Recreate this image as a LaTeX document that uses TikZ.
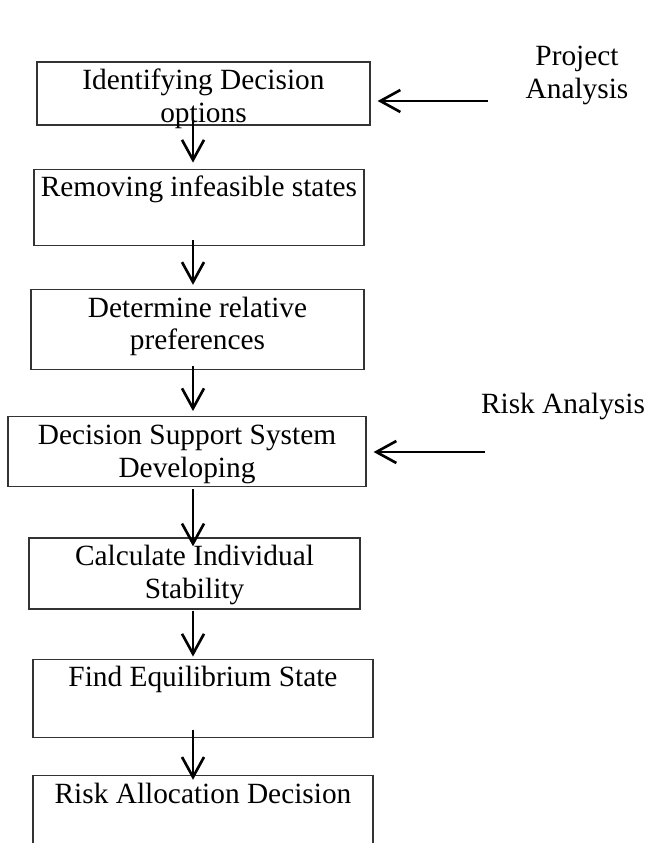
\documentclass[tikz,border=0pt]{standalone}
\usepackage{fontspec}
\setmainfont{Liberation Serif}
\usetikzlibrary{positioning,arrows.meta}

\begin{document}
\begin{tikzpicture}[
  node distance=0.86cm,
  box/.style={rectangle, draw=black!80, line width=0.7pt, inner sep=0pt, minimum width=6.66cm},
  txt/.style={anchor=north, align=flush center, text width=6.5cm, text height=0.4cm, inner xsep=0pt, inner ysep=0.16cm, font=\fontsize{16.7}{18.6}\selectfont},
  side/.style={anchor=north, align=flush center, text width=3.6cm, text height=0.4cm, inner sep=0pt, font=\fontsize{16.7}{18.6}\selectfont},
  arrow/.style={-{Straight Barb[length=0.4cm, width=0.44cm]}, line width=1.5pt}
]

% Frame
\clip (0,0) rectangle (12.96,-16.86);

% Main chain
\node[box, minimum height=1.26cm, label={[txt]north:Identifying Decision\\options}] (ident) at (4.07,-1.87) {};
\node[box, minimum width=6.6cm, minimum height=1.52cm, below=of ident, xshift=-0.09cm, label={[txt]north:Removing infeasible states}] (remove) {};
\node[box, minimum height=1.6cm, below=of remove, xshift=-0.03cm, label={[txt]north:Determine relative\\preferences}] (prefs) {};
\node[box, minimum width=7.16cm, minimum height=1.4cm, below=0.92cm of prefs, xshift=-0.21cm, label={[txt]north:Decision Support System\\Developing}] (dss) {};
\node[box, minimum width=6.62cm, minimum height=1.42cm, below=1.0cm of dss, xshift=0.15cm, label={[txt]north:Calculate Individual\\Stability}] (stab) {};
\node[box, minimum width=6.8cm, minimum height=1.56cm, below=0.98cm of stab, xshift=0.17cm, label={[txt]north:Find Equilibrium State}] (equil) {};
\node[box, minimum width=6.8cm, minimum height=1.6cm, below=0.74cm of equil, label={[txt]north:Risk Allocation Decision}] (alloc) {};

% Inputs
\node[side] (proj) at (11.54,-0.9) {Project\\Analysis};
\node[side] (risk) at (11.26,-7.86) {Risk Analysis};
\coordinate (spine) at (3.86,0);
\coordinate (projin) at (9.76,-2.02);
\coordinate (riskin) at (9.70,-9.04);

% Arrows - down the chain
\draw[arrow, shorten <=-0.16cm, shorten >=0.12cm] (ident.south -| spine) -- (remove.north -| spine);
\draw[arrow, shorten <=-0.12cm, shorten >=0.08cm] (remove.south -| spine) -- (prefs.north -| spine);
\draw[arrow, shorten <=-0.08cm, shorten >=0.1cm] (prefs.south -| spine) -- (dss.north -| spine);
\draw[arrow, shorten <=0.04cm, shorten >=-0.18cm] (dss.south -| spine) -- (stab.north -| spine);
\draw[arrow, shorten <=0.02cm, shorten >=0.04cm] (stab.south -| spine) -- (equil.north -| spine);
\draw[arrow, shorten <=-0.16cm, shorten >=-0.1cm] (equil.south -| spine) -- (alloc.north -| spine);

% Arrows - inputs
\draw[arrow, shorten >=0.14cm] (projin) -- (ident.east |- projin);
\draw[arrow, shorten >=0.14cm] (riskin) -- (dss.east |- riskin);

\end{tikzpicture}
\end{document}
